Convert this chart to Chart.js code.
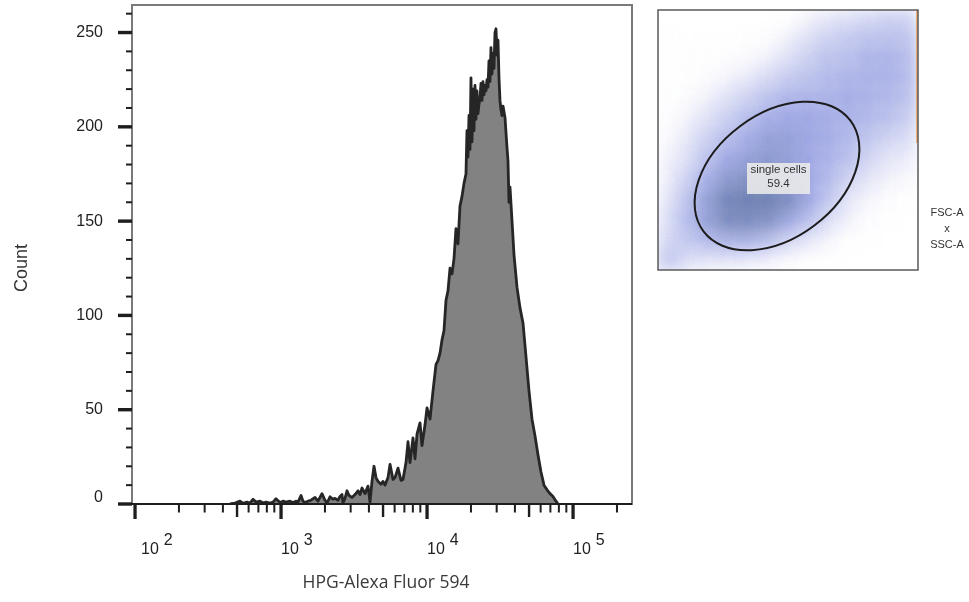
<!DOCTYPE html>
<html><head><meta charset="utf-8">
<script src="https://cdn.jsdelivr.net/npm/chart.js@4.4.1/dist/chart.umd.min.js"></script>
<style>
html,body{margin:0;padding:0;background:#fff;}
#wrap{position:relative;width:969px;height:602px;overflow:hidden;}
#main{position:absolute;left:0;top:0;}
#inset{position:absolute;left:650px;top:0;}
</style></head><body>
<div id="wrap">
<canvas id="main" width="969" height="602"></canvas>
<canvas id="inset" width="319" height="280"></canvas>
</div>
<script>
// ---------- histogram data (HPG-Alexa Fluor 594 intensity, count per bin) ----------
const fluorescence = [447,484,524,549,585,613,643,674,718,753,789,841,882,924,985,1032,1082,1152,1208,1267,1308,1371,1415,1460,1530,1605,1710,1792,1909,2001,2066,2166,2271,2344,2458,2536,2617,2659,2744,2832,2923,3064,3213,3369,3477,3588,3762,3944,4070,4201,4335,4474,4617,4841,4996,5156,5406,5579,5850,6037,6330,6637,6849,7181,7411,7648,8019,8276,8541,8955,9242,9690,10000,10485,10993,11526,11895,12275,12668,13074,13491,13924,14370,14829,15303,15793,16298,16821,17358,17916,
18490,18784,19083,19386,19694,20007,20325,20648,20976,21310,21649,21993,22343,22698,23059,23425,23798,24176,24560,24951,25347,25750,26160,26576,26998,27427,27864,28307,28757,29214,29679,30151,30630,31117,31612,32115,32626,33144,33671,34207,34751,35303,35865,36435,37014,
38217,39441,41334,43353,45436,47652,49947,52384,54927,57571,60365,63301,66372,69589,72946,76475,78926];
const cellCount = [0,0.5,1.5,0.3,1,0.5,2.5,1,1.5,0.5,1,0.5,1,2.8,0.8,1.5,1,1.5,0.8,1.5,1,4.5,1.5,0.8,1.5,2,3.5,1.5,5.5,2,0.5,3.8,2.5,3,2,4,5,0.5,3,7,4.5,3.5,5,7,5,8.5,5.5,9.5,1,12,20,14,12,10.5,12,10,14,21,13,14,19,12.5,13,22,33,22,35,24,37,43,31,42,51,45,60,74,76,80,87,92,108,113,125,122,130,146,138,158,163,170,
175,198,184,206,188,226,192,220,198,222,204,219,207,212,215,223,214,224,217,222,219,225,221,235,224,242,228,239,231,250,252,238,246,226,214,209,206,211,208,205,197,189,182,160,168,
150,132,115,104,96,78,60,45,36,26,17,10,7.5,5.5,4,1.5,0];

const yMajorTicks = [0,50,100,150,200,250];
const yMinorStep = 10;
const xDecades = [2,3,4,5];
const xAxisTitle = 'HPG-Alexa Fluor 594';
const yAxisTitle = 'Count';

// ---------- inset: FSC-A x SSC-A density (13 x 13 cells, top row first) ----------
const densityRows = [
 [0,0,0,0,0,0,0.1,0.8,1.5,2,2.5,3,3],
 [0.2,0,0.1,0.1,0.2,0.3,1,2,3,3.5,4,4,4],
 [0.1,0.2,0.2,0.3,0.5,1,2,3,4,4,5,5,4.5],
 [0.1,0.2,0.4,0.8,1.5,2.5,3.5,4,4.5,5,5,5,4.5],
 [0.2,0.4,1,2,3,4,5,5,5,5.5,5,4.5,4],
 [0.3,0.8,2,3,4.5,5.5,6,6,5.5,5,4.5,4,3],
 [0.5,1.5,3,4.5,5.5,6.5,6.5,6,5.5,4.5,3.5,2.5,2],
 [0.8,2,4,6,6.5,7,6.5,6,5,4,2.5,1.5,1],
 [1,3,5.5,7,7.5,7,6.5,6,4.5,2.5,1.5,0.8,0.5],
 [1.5,4,6.5,8.5,9,9,8,6,3.5,1.5,0.6,0.3,0.2],
 [2,4.5,6.5,8,8,7.5,6,4,2,0.8,0.3,0.1,0],
 [2.5,3.5,4.5,5,5,4,2.5,1.5,0.6,0.2,0.1,0,0],
 [4,2,1.5,1.5,1.2,0.8,0.4,0.2,0.1,0,0,0,0]
];
const gateName = 'single cells';
const gatePercent = '59.4';
const gateEllipse = {cx:5.95, cy:8.3, rx:4.6, ry:3.1, angle:37};
const insetAxisNames = ['FSC-A','x','SSC-A'];

// ---------- main histogram ----------
const FONT = '"Liberation Sans", Arial, Helvetica, sans-serif';
const mainAxes = {
  id:'mainAxes',
  beforeDatasetsDraw(chart){
    const {ctx, chartArea:a} = chart;
    ctx.save();
    ctx.strokeStyle='#7a7a7a'; ctx.lineWidth=2;
    ctx.strokeRect(a.left, a.top, a.right-a.left, a.bottom-a.top);
    ctx.restore();
  },
  afterDatasetsDraw(chart){
    const {ctx, chartArea:a, scales:{x,y}} = chart;
    ctx.save();
    ctx.fillStyle='#1e1e1e';
    ctx.fillRect(a.left, a.bottom-1, a.right-a.left, 2);
    for (let v=0; v<=y.max; v+=yMinorStep){
      const py = y.getPixelForValue(v);
      if (yMajorTicks.includes(v)) ctx.fillRect(a.left-14, py-1.7, 14, 3.4);
      else ctx.fillRect(a.left-6, py-1, 6, 2);
    }
    for (let d=1; d<=6; d++){
      for (let k=1; k<=9; k++){
        const val = k*Math.pow(10,d);
        if (val < x.min || val > x.max) continue;
        const px = x.getPixelForValue(val);
        if (k===1) ctx.fillRect(px-1.6, a.bottom, 3.3, 15);
        else if (k===5) ctx.fillRect(px-1.2, a.bottom, 2.4, 13);
        else ctx.fillRect(px-1, a.bottom, 2, 8.5);
      }
    }
    ctx.fillStyle='#222';
    ctx.font='16px '+FONT;
    ctx.textAlign='right'; ctx.textBaseline='middle';
    yMajorTicks.forEach(v=>{
      const py=y.getPixelForValue(v);
      ctx.fillText(String(v), a.left-29, py-(v===0?6:0));
    });
    ctx.textAlign='left'; ctx.textBaseline='alphabetic';
    xDecades.forEach((d,i)=>{
      const px = x.getPixelForValue(Math.pow(10,d));
      const w = ctx.measureText('10').width;
      const lx = px + (i===0 ? 6 : 0);
      ctx.fillText('10', lx, 554);
      ctx.fillText(String(d), lx+w+5, 545);
    });
    ctx.fillStyle='#333';
    ctx.font='18px '+FONT;
    ctx.textAlign='center'; ctx.textBaseline='middle';
    ctx.save(); ctx.translate(22, 268); ctx.rotate(-Math.PI/2); ctx.fillText(yAxisTitle,0,0); ctx.restore();
    ctx.fillStyle='#3a3a3a';
    ctx.font='17.5px "Open Sans", "Liberation Sans", sans-serif';
    ctx.fillText(xAxisTitle, 386, 583);
    ctx.restore();
  }
};

new Chart(document.getElementById('main'), {
  type:'line',
  data:{datasets:[{
    data: fluorescence.map((v,i)=>({x:v, y:cellCount[i]})),
    borderColor:'#262626', borderWidth:2.8, borderJoinStyle:'round',
    backgroundColor:'#828282', fill:'origin', pointRadius:0, tension:0
  }]},
  options:{
    responsive:false, animation:false, devicePixelRatio:1, events:[],
    layout:{autoPadding:false, padding:{left:132, top:5, right:337, bottom:98}},
    plugins:{legend:{display:false}, tooltip:{enabled:false}},
    scales:{
      x:{type:'logarithmic', min:95.4, max:253500, display:false},
      y:{type:'linear', min:0, max:264.6, display:false}
    }
  },
  plugins:[mainAxes]
});

// ---------- inset scatter density ----------
const cells = [];
densityRows.forEach((row,r)=>row.forEach((d,c)=>cells.push({x:c+0.5, y:r+0.5, d:d})));

const insetDeco = {
  id:'insetDeco',
  beforeDatasetsDraw(chart){ chart.ctx.save(); chart.ctx.filter='blur(9px)'; },
  afterDatasetsDraw(chart){
    const ctx = chart.ctx; ctx.restore();
    const {chartArea:a, scales:{x,y}} = chart;
    ctx.save();
    ctx.strokeStyle='#f08a24'; ctx.lineWidth=1.2;
    ctx.beginPath(); ctx.moveTo(a.right-1, a.top); ctx.lineTo(a.right-1, a.top+133); ctx.stroke();
    ctx.strokeStyle='#5a5a5a'; ctx.lineWidth=1.5;
    ctx.strokeRect(a.left, a.top, a.right-a.left, a.bottom-a.top);
    const g = gateEllipse;
    const cx = x.getPixelForValue(g.cx), cy = y.getPixelForValue(g.cy);
    const rx = x.getPixelForValue(g.cx+g.rx)-cx, ry = Math.abs(y.getPixelForValue(g.cy+g.ry)-cy);
    ctx.strokeStyle='#1c1c1c'; ctx.lineWidth=2;
    ctx.beginPath(); ctx.ellipse(cx, cy, rx, ry, -g.angle*Math.PI/180, 0, Math.PI*2); ctx.stroke();
    ctx.fillStyle='rgba(238,238,236,0.85)';
    ctx.fillRect(cx-30, cy-13, 63, 31);
    ctx.fillStyle='#333'; ctx.font='11.5px '+FONT; ctx.textAlign='center'; ctx.textBaseline='middle';
    ctx.fillText(gateName, cx+1.5, cy-6);
    ctx.fillText(gatePercent, cx+1.5, cy+8);
    ctx.font='11px '+FONT;
    insetAxisNames.forEach((t,i)=>ctx.fillText(t, 297, 213+i*16));
    ctx.restore();
  }
};

function cellBlue(c){ const d=c.raw?c.raw.d:0; return 'rgba(32,52,192,'+Math.min(0.72,d*0.082)+')'; }
function cellGreen(c){ const d=c.raw?c.raw.d:0; return 'rgba(175,212,45,'+(d>6?Math.min(0.55,(d-6)*0.17):0)+')'; }

new Chart(document.getElementById('inset'), {
  type:'scatter',
  data:{datasets:[
    {data:cells, pointStyle:'rect', pointRadius:14.3, borderWidth:0, backgroundColor:cellBlue},
    {data:cells, pointStyle:'rect', pointRadius:14.3, borderWidth:0, backgroundColor:cellGreen}
  ]},
  options:{
    responsive:false, animation:false, devicePixelRatio:1, events:[],
    layout:{autoPadding:false, padding:{left:8, top:10, right:51, bottom:10}},
    plugins:{legend:{display:false}, tooltip:{enabled:false}},
    scales:{
      x:{type:'linear', min:0, max:13, display:false},
      y:{type:'linear', min:0, max:13, reverse:true, display:false}
    }
  },
  plugins:[insetDeco]
});
</script>
</body></html>
